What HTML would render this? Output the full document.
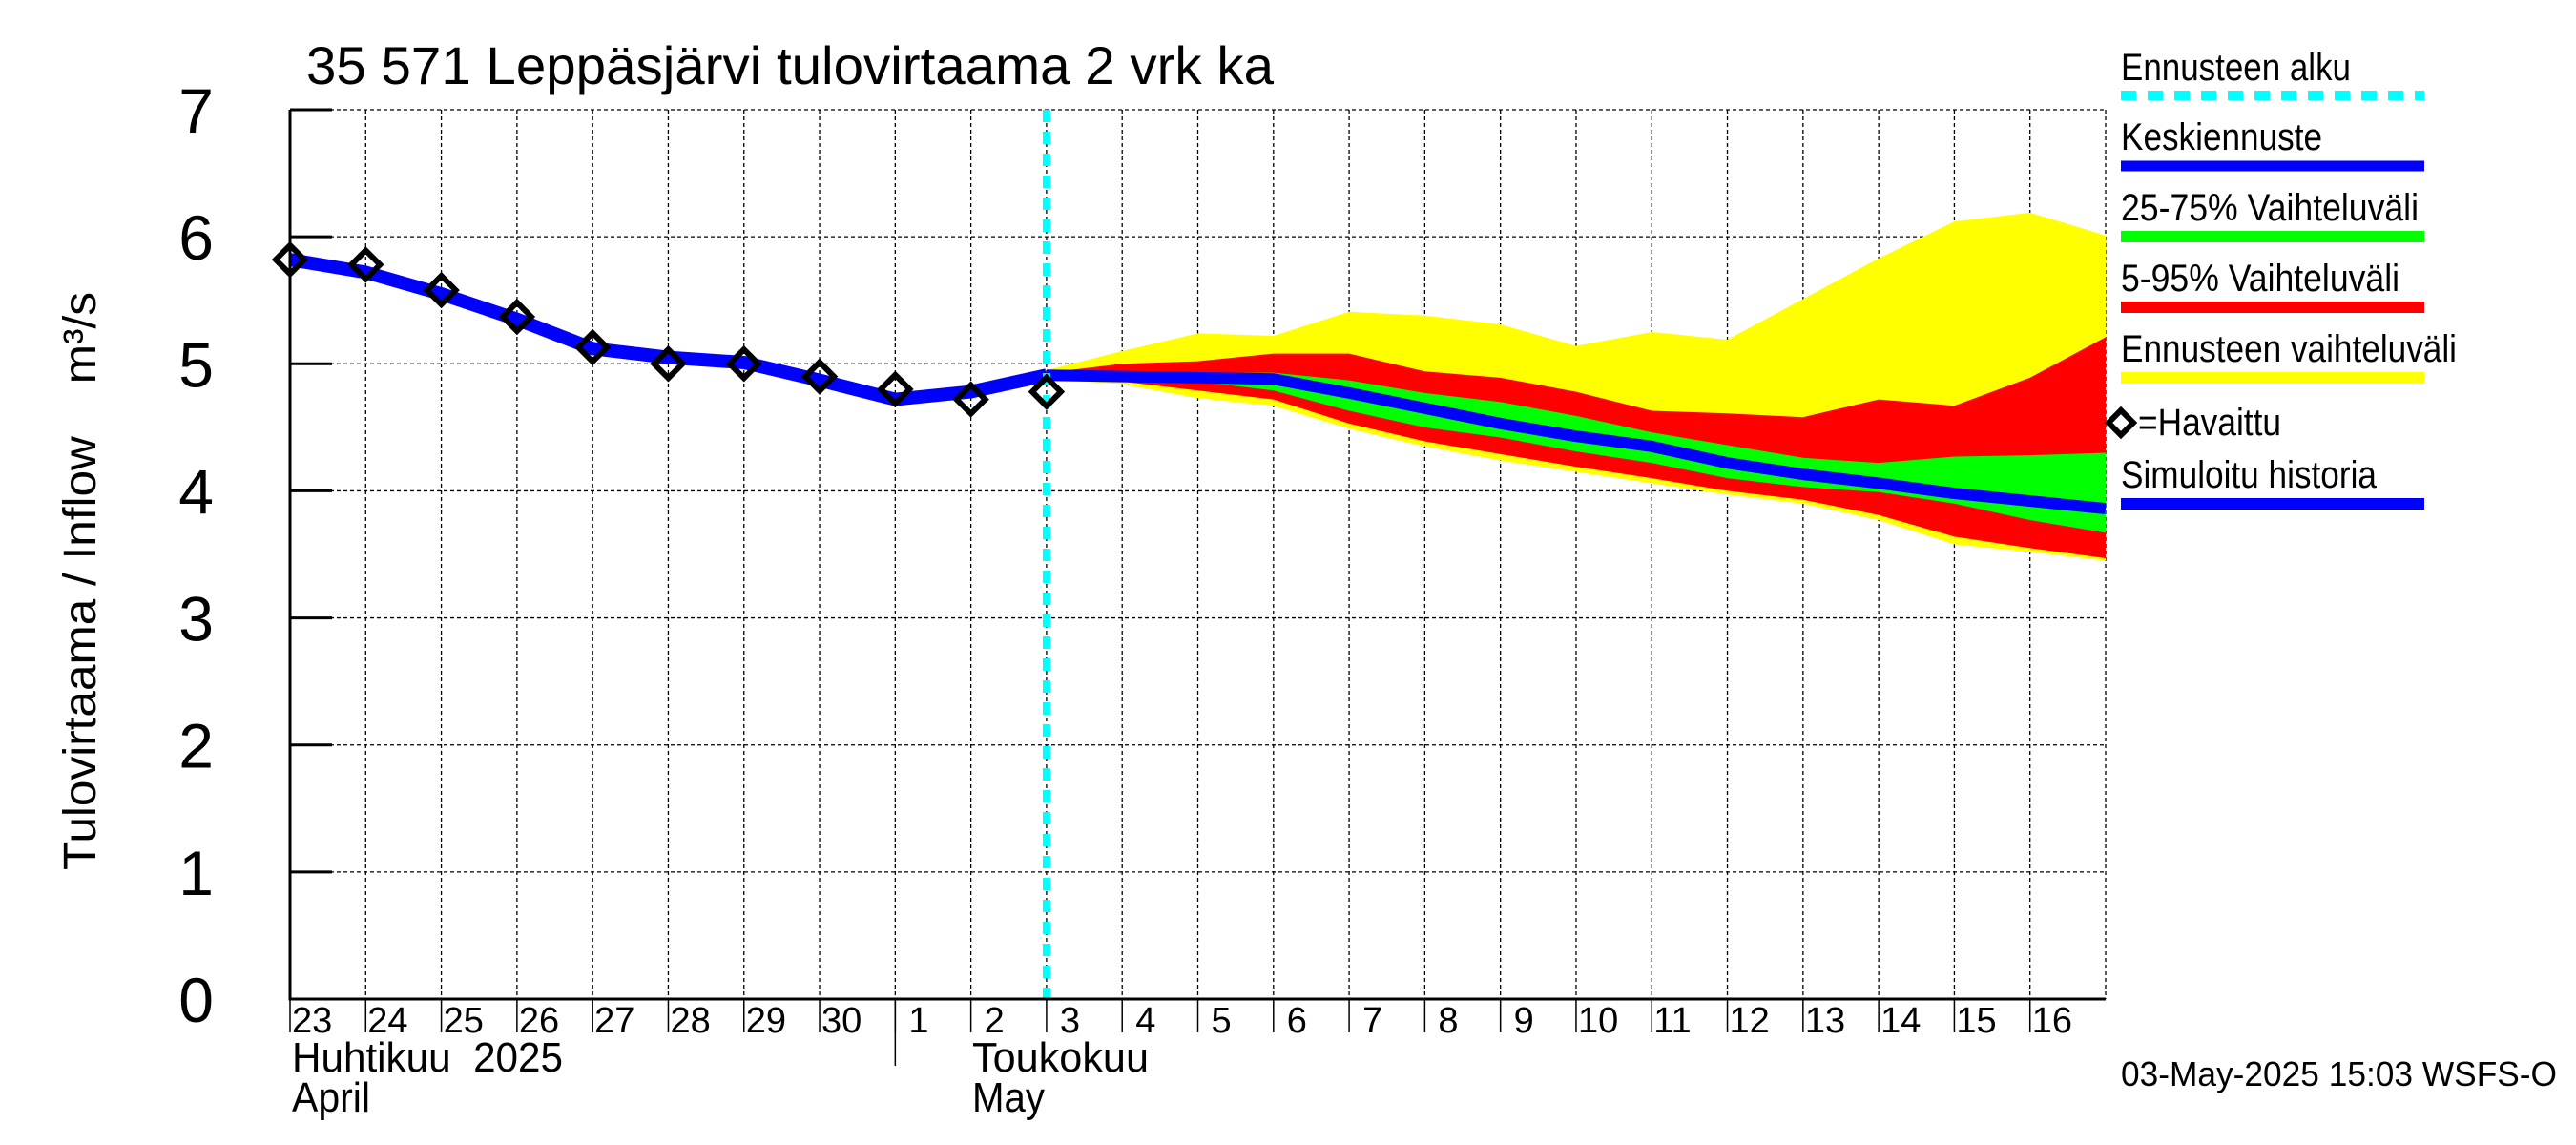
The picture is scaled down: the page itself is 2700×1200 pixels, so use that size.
<!DOCTYPE html>
<html><head><meta charset="utf-8"><style>html,body{margin:0;padding:0;background:#fff}svg{display:block}text{font-family:"Liberation Sans",sans-serif;fill:#000;white-space:pre}</style></head>
<body>
<svg id="chart" width="2700" height="1200" viewBox="0 0 2700 1200" xmlns="http://www.w3.org/2000/svg">
<text x="321" y="88" font-size="56" textLength="1014" lengthAdjust="spacingAndGlyphs">35 571 Leppäsjärvi tulovirtaama 2 vrk ka</text>
<text transform="translate(100,912) rotate(-90)" font-size="48" textLength="606" lengthAdjust="spacingAndGlyphs" xml:space="preserve">Tulovirtaama / Inflow    m³/s</text>
<g id="grid"></g>
<g id="bands"></g>
<g id="lines"></g>
<g id="axes"></g>
<g id="legend">
 <text x="2223" y="84" font-size="40" textLength="241" lengthAdjust="spacingAndGlyphs">Ennusteen alku</text>
 <line x1="2223" y1="100" x2="2541" y2="100" stroke="#00ffff" stroke-width="10" stroke-dasharray="16,12"/>
 <text x="2223" y="157" font-size="40" textLength="211" lengthAdjust="spacingAndGlyphs">Keskiennuste</text>
 <line x1="2223" y1="174" x2="2541" y2="174" stroke="#0000ff" stroke-width="11"/>
 <text x="2223" y="231" font-size="40" textLength="312" lengthAdjust="spacingAndGlyphs">25-75% Vaihteluväli</text>
 <line x1="2223" y1="248" x2="2541" y2="248" stroke="#00ff00" stroke-width="12"/>
 <text x="2223" y="305" font-size="40" textLength="292" lengthAdjust="spacingAndGlyphs">5-95% Vaihteluväli</text>
 <line x1="2223" y1="322" x2="2541" y2="322" stroke="#ff0000" stroke-width="12"/>
 <text x="2223" y="379" font-size="40" textLength="352" lengthAdjust="spacingAndGlyphs">Ennusteen vaihteluväli</text>
 <line x1="2223" y1="396" x2="2541" y2="396" stroke="#ffff00" stroke-width="12"/>
 <path d="M2223 430 L2236 443 L2223 456 L2210 443 Z" fill="none" stroke="#000" stroke-width="6"/>
 <text x="2241" y="456" font-size="40" textLength="150" lengthAdjust="spacingAndGlyphs">=Havaittu</text>
 <text x="2223" y="511" font-size="40" textLength="268" lengthAdjust="spacingAndGlyphs">Simuloitu historia</text>
 <line x1="2223" y1="528" x2="2541" y2="528" stroke="#0000ff" stroke-width="12"/>
</g>
<text x="2223" y="1138" font-size="36" textLength="457" lengthAdjust="spacingAndGlyphs">03-May-2025 15:03 WSFS-O</text>
</svg>
<script>
const histDays=[0,1,2,3,4,5,6,7,8,9,10];
const simulated=[5.82,5.72,5.55,5.35,5.12,5.05,5.01,4.87,4.72,4.78,4.91];
const observed=[5.82,5.78,5.58,5.37,5.13,5.0,5.0,4.9,4.8,4.72,4.78];
const fcDays=[10,11,12,13,14,15,16,17,18,19,20,21,22,23,24];
const median=[4.91,4.9,4.89,4.88,4.77,4.65,4.53,4.43,4.35,4.22,4.13,4.06,3.98,3.92,3.86];
const p75=[4.92,4.93,4.93,4.93,4.87,4.77,4.70,4.59,4.46,4.36,4.26,4.22,4.27,4.28,4.30];
const p25=[4.9,4.88,4.86,4.79,4.63,4.50,4.42,4.31,4.22,4.10,4.03,3.99,3.90,3.77,3.67];
const p95=[4.93,5.0,5.02,5.08,5.08,4.94,4.89,4.78,4.63,4.61,4.58,4.72,4.67,4.89,5.21];
const p05=[4.89,4.86,4.79,4.72,4.53,4.39,4.29,4.19,4.10,4.00,3.93,3.81,3.64,3.55,3.47];
const pMax=[4.95,5.1,5.24,5.22,5.41,5.38,5.31,5.14,5.25,5.19,5.51,5.83,6.12,6.19,6.01];
const pMin=[4.88,4.84,4.73,4.67,4.49,4.35,4.24,4.15,4.06,3.97,3.90,3.77,3.58,3.52,3.45];
const dayLabels=["23","24","25","26","27","28","29","30","1","2","3","4","5","6","7","8","9","10","11","12","13","14","15","16"];
const yTicks=[0,1,2,3,4,5,6,7];
const forecastStart=10;
const L=304,R=2207,T=115,B=1047,NDAYS=24,YMAX=7;
const X=d=>L+(R-L)*d/NDAYS;
const Y=v=>B-(B-T)*v/YMAX;
const NS="http://www.w3.org/2000/svg";
function mk(tag,parent,attrs){const e=document.createElementNS(NS,tag);for(const k in attrs)e.setAttribute(k,attrs[k]);parent.appendChild(e);return e;}
const grid=document.getElementById('grid'),bands=document.getElementById('bands'),lines=document.getElementById('lines'),axes=document.getElementById('axes');
yTicks.forEach(v=>{if(v>0){const g=mk('line',grid,{x1:L,x2:R,y1:Y(v),y2:Y(v),stroke:'#000','stroke-width':1.3,'stroke-dasharray':'4,3'});

}
const t=mk('line',axes,{x1:L,x2:L+44,y1:Y(v),y2:Y(v),stroke:'#000','stroke-width':3});


const lb=mk('text',axes,{x:224,y:Y(v)+24,'font-size':66,'text-anchor':'end'});lb.textContent=v;

});
for(let d=1;d<=NDAYS;d++){const g=mk('line',grid,{x1:X(d),x2:X(d),y1:T,y2:B,stroke:'#000','stroke-width':1.3,'stroke-dasharray':'4,3'});

}
function band(up,lo,color,name){let pts=fcDays.map((d,i)=>X(d)+','+Y(up[i]));for(let i=fcDays.length-1;i>=0;i--)pts.push(X(fcDays[i])+','+Y(lo[i]));
const p=mk('polygon',bands,{points:pts.join(' '),fill:color});

}
band(pMax,pMin,'#ffff00','range-band');band(p95,p05,'#ff0000','band-5-95');band(p75,p25,'#00ff00','band-25-75');
const med=mk('polyline',lines,{points:fcDays.map((d,i)=>X(d)+','+Y(median[i])).join(' '),fill:'none',stroke:'#0000ff','stroke-width':12,'stroke-linejoin':'round'});


const sim=mk('polyline',lines,{points:histDays.map((d,i)=>X(d)+','+Y(simulated[i])).join(' '),fill:'none',stroke:'#0000ff','stroke-width':14,'stroke-linejoin':'round'});


const fl=mk('line',lines,{x1:X(forecastStart),x2:X(forecastStart),y1:T,y2:B,stroke:'#00ffff','stroke-width':8,'stroke-dasharray':'13,10'});


histDays.forEach((d,i)=>{const x=X(d),y=Y(observed[i]);const m=mk('path',lines,{d:`M${x} ${y-15}L${x+15} ${y}L${x} ${y+15}L${x-15} ${y}Z`,fill:'none',stroke:'#000','stroke-width':6});

});
const ax=mk('path',axes,{d:`M${L} ${T}V${B}H${R}`,fill:'none',stroke:'#000','stroke-width':3});


dayLabels.forEach((s,i)=>{const tk=mk('line',axes,{x1:X(i),x2:X(i),y1:B,y2:B+35,stroke:'#000','stroke-width':1.5});


const t=mk('text',axes,{x:X(i)+(s.length>1?2:14),y:1082,'font-size':38});t.textContent=s;

});
const sep=mk('line',axes,{x1:X(8),x2:X(8),y1:B,y2:1117,stroke:'#000','stroke-width':1.5});


[["Huhtikuu  2025",306,1123,'month-label-april-fi',284],["April",306,1165,'month-label-april-en',82],["Toukokuu",1019,1123,'month-label-may-fi',185],["May",1019,1165,'month-label-may-en',76]].forEach(a=>{const t=mk('text',axes,{x:a[1],y:a[2],'font-size':44,textLength:a[4],lengthAdjust:'spacingAndGlyphs'});t.textContent=a[0];

});
</script>
</body></html>
